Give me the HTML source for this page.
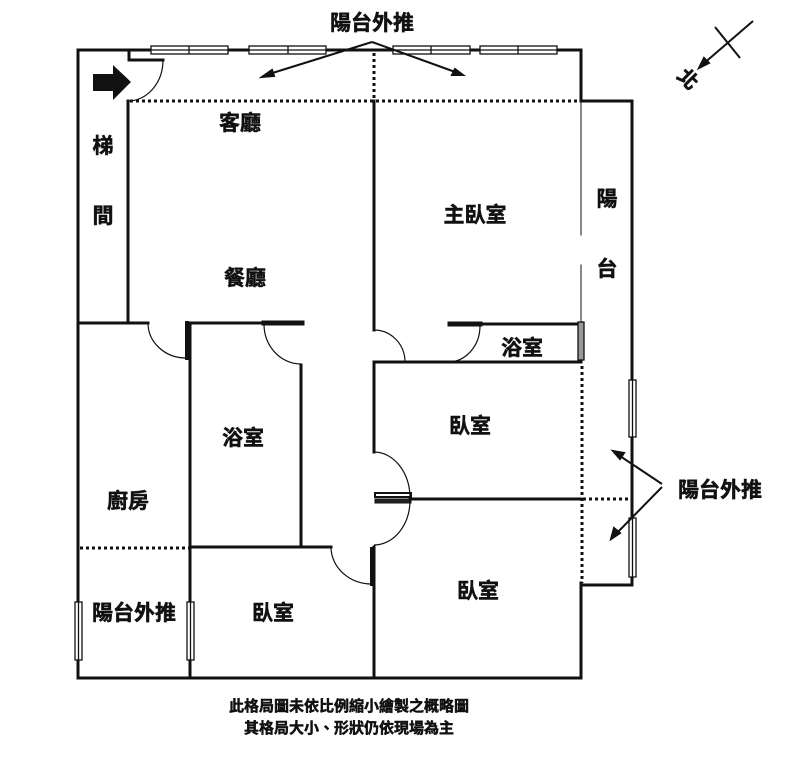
<!DOCTYPE html>
<html><head><meta charset="utf-8"><style>
html,body{margin:0;padding:0;background:#fff;width:800px;height:766px;overflow:hidden}
text{font-family:"Liberation Sans","Noto Sans CJK TC",sans-serif;font-weight:bold;fill:#111;stroke:#111;stroke-width:0.5}
</style></head><body>
<svg width="800" height="766" viewBox="0 0 800 766" xmlns="http://www.w3.org/2000/svg">
<g stroke="#111" stroke-width="3" fill="none" stroke-linecap="square">
<polyline points="129,50 78,50 78,678 581,678 581,585 632,585 632,101 581,101 581,50 129,50"/>
<polyline points="129,50 129,60 163,60"/>
<line x1="128" y1="101" x2="128" y2="323"/>
<line x1="78" y1="323" x2="148" y2="323"/>
<line x1="374" y1="101" x2="374" y2="330"/>
<line x1="190" y1="323" x2="302" y2="323"/>
<line x1="264" y1="323" x2="302" y2="323" stroke-width="5"/>
<line x1="190" y1="323" x2="190" y2="678"/>
<line x1="187" y1="323" x2="187" y2="358" stroke-width="4"/>
<line x1="301" y1="365" x2="301" y2="547"/>
<line x1="190" y1="547" x2="331" y2="547"/>
<line x1="374" y1="547" x2="374" y2="678"/>
<line x1="372" y1="549" x2="372" y2="584" stroke-width="4"/>
<line x1="374" y1="362" x2="374" y2="452"/>
<line x1="374" y1="362" x2="581" y2="362"/>
<line x1="450" y1="324" x2="581" y2="324"/>
<line x1="450" y1="324" x2="480" y2="324" stroke-width="5"/>
<line x1="581" y1="324" x2="581" y2="362"/>
<line x1="581" y1="583" x2="581" y2="678"/>
<line x1="410" y1="499" x2="581" y2="499"/>
<line x1="581" y1="101" x2="581" y2="235" stroke-width="1"/>
<line x1="581" y1="265" x2="581" y2="324" stroke-width="1"/>
</g>
<rect x="375" y="493" width="36" height="4" fill="#fff" stroke="#111" stroke-width="2"/>
<rect x="375" y="499" width="36" height="4" fill="#222" stroke="#111" stroke-width="1"/>
<g stroke="#111" stroke-width="3" stroke-dasharray="3,3" fill="none">
<line x1="130" y1="101" x2="580" y2="101"/>
<line x1="374" y1="53" x2="374" y2="100"/>
<line x1="80" y1="548" x2="189" y2="548"/>
<line x1="582" y1="366" x2="582" y2="583"/>
<line x1="583" y1="499" x2="631" y2="499"/>
</g>
<g fill="#fff" stroke="#111" stroke-width="1.3">
<rect x="151" y="46" width="77" height="8"/><line x1="189" y1="46" x2="189" y2="54"/><line x1="151" y1="50" x2="228" y2="50"/>
<rect x="249" y="46" width="77" height="8"/><line x1="288" y1="46" x2="288" y2="54"/><line x1="249" y1="50" x2="326" y2="50"/>
<rect x="393" y="46" width="77" height="8"/><line x1="431" y1="46" x2="431" y2="54"/><line x1="393" y1="50" x2="470" y2="50"/>
<rect x="480" y="46" width="77" height="8"/><line x1="518" y1="46" x2="518" y2="54"/><line x1="480" y1="50" x2="557" y2="50"/>
<rect x="75" y="602" width="7" height="58"/><line x1="78.5" y1="602" x2="78.5" y2="660"/>
<rect x="187" y="602" width="7" height="58"/><line x1="190.5" y1="602" x2="190.5" y2="660"/>
<rect x="629" y="380" width="7" height="57"/><line x1="632.5" y1="380" x2="632.5" y2="437"/>
<rect x="629" y="518" width="7" height="59"/><line x1="632.5" y1="518" x2="632.5" y2="577"/>
<rect x="578" y="322" width="6" height="38" fill="#999"/>
</g>
<g stroke="#111" stroke-width="1.2" fill="none">
<path d="M163,60 A35,41 0 0 1 128,101"/>
<path d="M148,323 A38,35 0 0 0 186,358"/>
<path d="M264,324 A37,40 0 0 0 301,364"/>
<path d="M331,547 A41,37 0 0 0 372,584"/>
<path d="M374,330 A31,32 0 0 1 405,362"/>
<path d="M480,326 A32,36 0 0 1 448,362"/>
<path d="M374,452 A36,46 0 0 1 410,498"/>
<path d="M410,500 A36,45 0 0 1 374,545"/>
</g>
<polygon points="93,74 113,74 113,65 131,82 113,100 113,91 93,91" fill="#111"/>
<g stroke="#111" stroke-width="2" fill="#111">
<line x1="372" y1="42" x2="266" y2="75"/><polygon points="262,77 272,70 274,76"/>
<line x1="372" y1="42" x2="458" y2="73"/><polygon points="463,75 452,75 455,69"/>
<line x1="662" y1="484" x2="617" y2="454"/><polygon points="613,451 624,453 620,459"/>
<line x1="662" y1="487" x2="614" y2="536"/><polygon points="611,539 614,528 620,533"/>
<line x1="753" y1="21" x2="702" y2="65"/><polygon points="699,68 704,58 709,63"/>
<line x1="715" y1="27" x2="740" y2="58"/>
</g>
<text x="688" y="86" font-size="20" text-anchor="middle" transform="rotate(45 688 79)">北</text>
<g font-size="21">
<text x="372" y="30" text-anchor="middle">陽台外推</text>
<text x="240" y="130" text-anchor="middle">客廳</text>
<text x="245" y="285" text-anchor="middle">餐廳</text>
<text x="475" y="222" text-anchor="middle">主臥室</text>
<text x="103" y="153" text-anchor="middle">梯</text>
<text x="103" y="223" text-anchor="middle">間</text>
<text x="607" y="206" text-anchor="middle">陽</text>
<text x="607" y="276" text-anchor="middle">台</text>
<text x="522" y="355" text-anchor="middle">浴室</text>
<text x="470" y="433" text-anchor="middle">臥室</text>
<text x="243" y="445" text-anchor="middle">浴室</text>
<text x="128" y="508" text-anchor="middle">廚房</text>
<text x="478" y="598" text-anchor="middle">臥室</text>
<text x="273" y="620" text-anchor="middle">臥室</text>
<text x="134" y="620" text-anchor="middle">陽台外推</text>
<text x="720" y="497" text-anchor="middle">陽台外推</text>
</g>
<g font-size="15">
<text x="349" y="711" text-anchor="middle">此格局圖未依比例縮小繪製之概略圖</text>
<text x="349" y="733" text-anchor="middle">其格局大小、形狀仍依現場為主</text>
</g>
</svg>
</body></html>
